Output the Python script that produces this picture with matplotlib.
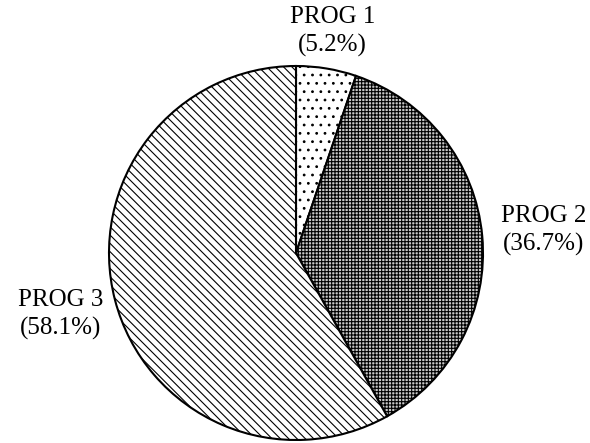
import numpy as np
import matplotlib.pyplot as plt

labels = ['PROG 1', 'PROG 2', 'PROG 3']
shares = [5.2, 36.7, 58.1]
hatches = ['..', '+++++', '\\\\\\\\']
faces = ['white', '#c8c8c8', 'white']
label_dist = [1.2, 1.33, 1.30]

plt.rcParams['font.family'] = 'Liberation Serif'
plt.rcParams['hatch.linewidth'] = 0.8

fig = plt.figure(figsize=(5.9, 4.43), dpi=100)
ax = fig.add_axes([109 / 590, 3 / 443, 374 / 590, 374 / 443])

wedges, _ = ax.pie(shares, startangle=90, counterclock=False,
                   wedgeprops=dict(edgecolor='black', linewidth=1.5))
for w, h, fc in zip(wedges, hatches, faces):
    w.set_hatch(h)
    w.set_facecolor(fc)

for w, lab, s, d in zip(wedges, labels, shares, label_dist):
    ang = np.deg2rad((w.theta1 + w.theta2) / 2)
    ax.text(d * np.cos(ang), d * np.sin(ang), '%s\n(%.1f%%)' % (lab, s),
            ha='center', va='center', fontsize=18, linespacing=1.35)

ax.set_xlim(-1, 1)
ax.set_ylim(-1, 1)
ax.set_aspect('equal')
ax.axis('off')
fig.savefig('out.png')
